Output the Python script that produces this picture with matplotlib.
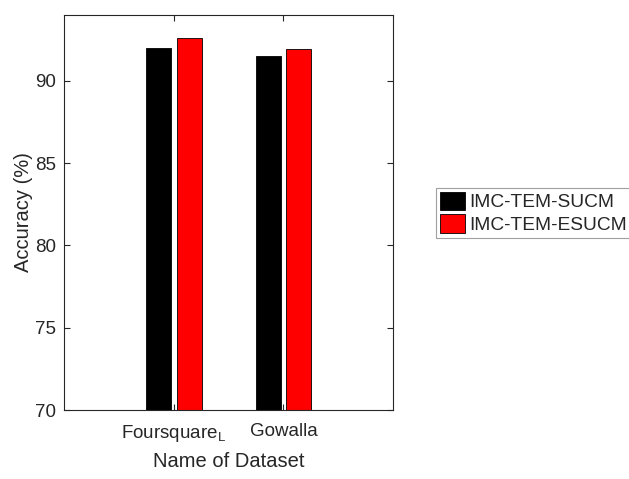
import numpy as np
import matplotlib.pyplot as plt

plt.rcParams['font.family'] = ['Liberation Sans', 'DejaVu Sans']

# data
datasets = ['Foursquare$_\\mathregular{L}$', 'Gowalla']
sucm = [92.0, 91.5]
esucm = [92.6, 91.95]
series_names = ['IMC-TEM-SUCM', 'IMC-TEM-ESUCM']

txt = '#262626'
fig = plt.figure(figsize=(6.29, 4.79), dpi=100)
ax = fig.add_axes([0.102, 0.144, 0.523, 0.825])

x = np.arange(1, len(datasets) + 1)
w = 0.23
ax.bar(x - 0.14, sucm, w, color='black', edgecolor='black', linewidth=0.6, label=series_names[0])
ax.bar(x + 0.14, esucm, w, color='red', edgecolor='black', linewidth=0.6, label=series_names[1])

ax.set_xlim(0, 3)
ax.set_ylim(70, 94)
ax.set_yticks([70, 75, 80, 85, 90])
ax.set_xticks(x)
ax.set_xticklabels(datasets)
ax.tick_params(direction='in', top=True, right=True, labelsize=13.5, colors=txt, length=4)
ax.tick_params(axis='x', pad=9)
ax.tick_params(axis='y', pad=6)
for s in ax.spines.values():
    s.set_color(txt)
    s.set_linewidth(0.8)

ax.set_ylabel('Accuracy (%)', fontsize=14.5, color=txt, labelpad=1)
ax.set_xlabel('Name of Dataset', fontsize=14.5, color=txt, labelpad=6)

leg = fig.legend(loc='center left', bbox_to_anchor=(0.693, 0.556), fontsize=13.8,
                 handlelength=1.3, handleheight=1.1, handletextpad=0.25,
                 borderpad=0.2, labelspacing=0.15, fancybox=False, borderaxespad=0)
leg.get_frame().set_edgecolor('#888888')
leg.get_frame().set_linewidth(0.8)
for t in leg.get_texts():
    t.set_color(txt)

fig.savefig('out.png', dpi=100)
